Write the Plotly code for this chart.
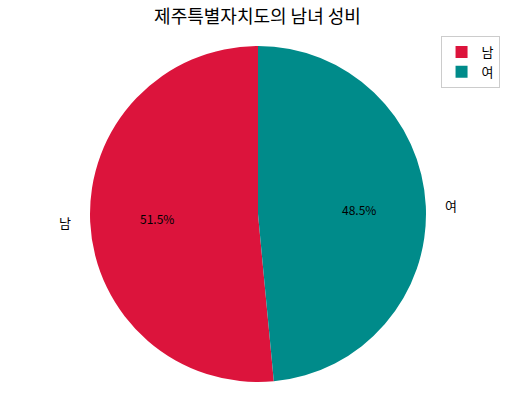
import math
import plotly.graph_objects as go

# data
labels = ['남', '여']
values = [51.5, 48.5]
colors = ['#DC143C', '#008B8A']
title_text = '제주특별자치도의 남녀 성비'

W, H = 515, 410
cx, cy, r = 258, 214, 168  # pie centre / radius in pixels

total = sum(values)

fig = go.Figure(go.Pie(
    labels=labels,
    values=values,
    marker=dict(colors=colors, line=dict(width=0)),
    sort=False,
    direction='clockwise',
    rotation=360 * values[1] / total,   # so the first slice ends at 12 o'clock (counterclockwise look)
    textinfo='none',
    hole=0,
    domain=dict(x=[(cx - r) / W, (cx + r) / W], y=[(H - cy - r) / H, (H - cy + r) / H]),
))

# labels at 1.1 * radius and percentages at 0.6 * radius, from the slice mid-angles
start = 90.0
for lab, v in zip(labels, values):
    mid = start + 360 * v / total / 2
    start += 360 * v / total
    a = math.radians(mid)
    lx = cx + 1.1 * r * math.cos(a)
    ly = cy - 1.1 * r * math.sin(a)
    fig.add_annotation(
        x=lx / W, y=1 - ly / H, xref='paper', yref='paper',
        text=lab, showarrow=False,
        xanchor='right' if math.cos(a) < 0 else 'left',
        font=dict(size=13, color='black'),
    )
    tx = cx + 0.6 * r * math.cos(a)
    ty = cy - 0.6 * r * math.sin(a)
    fig.add_annotation(
        x=tx / W, y=1 - ty / H, xref='paper', yref='paper',
        text=f'{100 * v / total:.1f}%', showarrow=False,
        xanchor='center', yanchor='middle',
        font=dict(size=12, color='black'),
    )

fig.update_layout(
    width=W, height=H,
    margin=dict(l=0, r=0, t=0, b=0),
    paper_bgcolor='white',
    font=dict(family='Noto Sans CJK KR, sans-serif', color='black'),
    title=dict(text=title_text, x=0.5, xanchor='center', y=1 - 17 / H, yanchor='middle',
               font=dict(size=18, color='black')),
    legend=dict(x=0.97, xanchor='right', y=1 - 36 / H, yanchor='top',
                bordercolor='#cccccc', borderwidth=1, bgcolor='white',
                font=dict(size=13)),
)

fig.write_html('out.html', config={'displayModeBar': False},
               post_script="document.body.style.margin='0';")
